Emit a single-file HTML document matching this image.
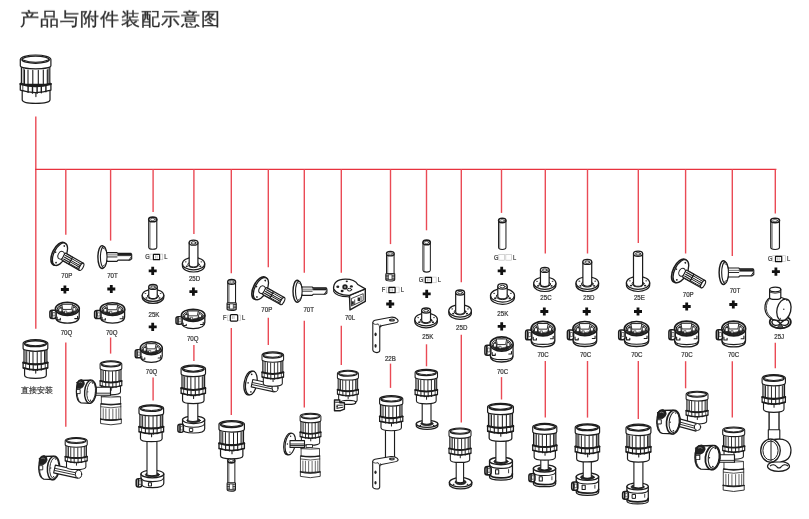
<!DOCTYPE html>
<html><head><meta charset="utf-8"><style>
html,body{margin:0;padding:0;background:#fff;}
body{width:809px;height:519px;overflow:hidden;position:relative;font-family:"Liberation Sans",sans-serif;}
.t{position:absolute;left:19.9px;top:7.3px;font-size:19px;color:#2e2e2e;white-space:nowrap;letter-spacing:1.12px;-webkit-text-stroke:0.3px #2e2e2e;transform:scale(1,0.95);transform-origin:0 0;}
.d{position:absolute;left:21px;top:385.2px;font-size:7.8px;color:#333;white-space:nowrap;-webkit-text-stroke:0.2px #333;}
svg{position:absolute;left:0;top:0;}
svg{will-change:transform}
.t,.d{will-change:transform}
</style></head><body>
<svg width="809" height="519" viewBox="0 0 809 519" font-family="Liberation Sans, sans-serif">
<defs>
<symbol id="bc" viewBox="0 0 30.6 48.3" preserveAspectRatio="none" overflow="visible">
<g stroke="#1c1c1c" fill="#fff" stroke-linejoin="round" stroke-linecap="round">
 <path d="M1.9,35 V44 Q1.9,47.6 15.3,47.6 Q29.7,47.6 29.7,44 V35 Z" stroke-width="1.2"/>
 <path d="M15.6,37.5 v3.5" stroke-width="1.1"/>
 <rect x="1.1" y="10" width="28.4" height="19" stroke-width="1.2"/>
 <path d="M2.9,13.5v15.5M27.9,13.5v15.5" stroke-width="0.8"/>
 <path d="M4.2,14.5v15M7.7,14.8v15.2M12.5,15v15.3M18,15v15.3M23,14.8v15.2M27,14.5v15" stroke-width="1.1"/>
 <path d="M0,28 Q15.3,32.6 30.6,28 V34.6 Q15.3,39.4 0,34.6 Z" stroke-width="1.3"/>
 <path d="M0,28.6 Q15.3,33.2 30.6,28.6" fill="none" stroke-width="1.8"/>
 <path d="M7.8,30.6v6.2M12.2,31.2v6.4M16.8,31.3v6.4M21,31v6.3M25.6,30.2v6" stroke-width="1.4"/>
 <path d="M2.5,30v5.5" stroke-width="0.8"/>
 <path d="M0,4.5 A15.3,4.5 0 0 1 30.6,4.5 V10.6 A15.3,3 0 0 1 0,10.6 Z" stroke-width="1.2"/>
 <ellipse cx="15.3" cy="4.6" rx="13.6" ry="3.5" stroke-width="1.4"/>
 <path d="M1.8,4.6 Q15.3,9.6 28.8,4.6" fill="none" stroke-width="1.1"/>
</g>
</symbol>

<symbol id="q70" viewBox="0 0 30 22" preserveAspectRatio="none" overflow="visible">
<g stroke="#1c1c1c" fill="#fff" stroke-linejoin="round" stroke-linecap="round">
 <path d="M6,7 V15 Q6,21.5 17.8,21.5 Q29.6,21.5 29.6,15 V7 Z" stroke-width="1.3"/>
 <path d="M7.6,15.5 v2.8 h3.2 v-1.6 M28,14.5 v2.5 h-2.8" fill="none" stroke-width="1.1"/>
 <ellipse cx="17.8" cy="7" rx="11.9" ry="6.7" stroke-width="1.6"/>
 <ellipse cx="17.8" cy="7.6" rx="10.2" ry="5.4" stroke-width="1.0"/>
 <path d="M8.4,8.8 Q8.7,6 11.6,4.6 L13.2,9 L12.2,12 Q9.2,11.5 8.4,8.8Z" fill="#333" stroke-width="0.6"/>
 <path d="M27.2,8.8 Q26.8,5.8 24,4.4 L22.6,9 L23.6,11.9 Q26.4,11.1 27.2,8.8Z" fill="#333" stroke-width="0.6"/>
 <path d="M11,11.6 Q17.8,14.8 24.6,11.6 L23,9.8 Q17.8,12.2 12.6,9.8Z" fill="#222" stroke-width="0.6"/>
 <path d="M12.6,2.3 H23 L22,7.6 H13.6Z" fill="#fff" stroke-width="0.9"/>
 <rect x="9.8" y="6.8" width="2" height="2.6" fill="#fff" stroke="none"/>
 <rect x="23.8" y="6.2" width="2" height="2.6" fill="#fff" stroke="none"/>
 <rect x="15.4" y="9.2" width="1.8" height="2.2" fill="#fff" stroke-width="0.6"/>
 <rect x="0.4" y="8.4" width="6.2" height="8.4" rx="2.2" stroke-width="1.5"/>
 <path d="M2.4,9.3v6.6" stroke-width="1.6"/>
 <rect x="3.6" y="10.8" width="2" height="3.4" fill="#fff" stroke-width="0.6"/>
</g>
</symbol>

<symbol id="c70" viewBox="0 0 30 26" preserveAspectRatio="none" overflow="visible">
<g stroke="#1c1c1c" fill="#fff" stroke-linejoin="round" stroke-linecap="round">
 <path d="M6,7.5 V19.5 Q6,25.5 17.8,25.5 Q29.6,25.5 29.6,19.5 V7.5 Z" stroke-width="1.3"/>
 <path d="M6.2,19.5 Q6.5,23.2 17.8,23.2 Q29.2,23.2 29.4,19.5" fill="none" stroke-width="1.2"/>
 <path d="M8,16 v2.8 h3.2 v-1.6 M28,15 v2.5 h-2.8" fill="none" stroke-width="1.1"/>
 <ellipse cx="17.8" cy="7.5" rx="11.9" ry="7.2" stroke-width="1.6"/>
 <ellipse cx="17.8" cy="8.1" rx="10.2" ry="5.8" stroke-width="1.0"/>
 <path d="M8.4,9.3 Q8.7,6.3 11.6,4.8 L13.2,9.5 L12.2,12.7 Q9.2,12.1 8.4,9.3Z" fill="#333" stroke-width="0.6"/>
 <path d="M27.2,9.3 Q26.8,6.1 24,4.6 L22.6,9.5 L23.6,12.5 Q26.4,11.7 27.2,9.3Z" fill="#333" stroke-width="0.6"/>
 <path d="M11,12.2 Q17.8,15.6 24.6,12.2 L23,10.3 Q17.8,12.8 12.6,10.3Z" fill="#222" stroke-width="0.6"/>
 <path d="M12.6,2.4 H23 L22,8 H13.6Z" fill="#fff" stroke-width="0.9"/>
 <rect x="9.8" y="7.2" width="2" height="2.8" fill="#fff" stroke="none"/>
 <rect x="23.8" y="6.6" width="2" height="2.8" fill="#fff" stroke="none"/>
 <rect x="15.4" y="9.7" width="1.8" height="2.3" fill="#fff" stroke-width="0.6"/>
 <rect x="0.4" y="8.8" width="6.2" height="9.8" rx="2.2" stroke-width="1.5"/>
 <path d="M2.4,9.8v7.8" stroke-width="1.6"/>
 <rect x="3.6" y="11.4" width="2" height="4" fill="#fff" stroke-width="0.6"/>
</g>
</symbol>

<symbol id="tg" viewBox="0 0 9.5 33" preserveAspectRatio="none" overflow="visible">
<g stroke="#1c1c1c" fill="#fff" stroke-linejoin="round" stroke-linecap="round">
 <path d="M0.7,2.8 V30.5 Q0.7,32.5 4.75,32.5 Q8.8,32.5 8.8,30.5 V2.8" stroke-width="1.1"/>
 <path d="M2,5 V31" fill="none" stroke-width="0.6"/>
 <ellipse cx="4.75" cy="2.8" rx="4.05" ry="2.3" stroke-width="1.6"/>
 <ellipse cx="4.75" cy="2.9" rx="2.3" ry="1.1" stroke-width="0.6"/>
</g>
</symbol>

<symbol id="tf" viewBox="0 0 11 32" preserveAspectRatio="none" overflow="visible">
<g stroke="#1c1c1c" fill="#fff" stroke-linejoin="round" stroke-linecap="round">
 <path d="M1.5,2.8 V24 H9.5 V2.8" stroke-width="1.1"/>
 <path d="M2.8,5 V24" fill="none" stroke-width="0.6"/>
 <ellipse cx="5.5" cy="2.8" rx="4" ry="2.3" stroke-width="1.5"/>
 <ellipse cx="5.5" cy="2.9" rx="2.3" ry="1.1" stroke-width="0.6"/>
 <path d="M0.8,24 H10.2 V30 Q10.2,31.6 5.5,31.6 Q0.8,31.6 0.8,30 Z" stroke-width="1.1"/>
 <path d="M1,25.6h9M1,27.2h9M1,28.8h9M1,30.3h9" stroke-width="0.9"/>
 <rect x="3.8" y="25" width="3.4" height="5" fill="#fff" stroke-width="0.6"/>
</g>
</symbol>

<symbol id="p70" viewBox="0 0 34 28" preserveAspectRatio="none" overflow="visible">
<g stroke="#1c1c1c" fill="#fff" stroke-linejoin="round" stroke-linecap="round">
 <g transform="rotate(29 20 19)">
  <path d="M9,15 H32.5 V23 H9 Z" stroke-width="1.2"/>
  <ellipse cx="32.5" cy="19" rx="1.7" ry="4" stroke-width="1.1"/>
  <path d="M14,16.8 H30.5 M14,18.6 H31 M14,20.4 H31 M14,22 H30.5" stroke-width="1.0"/>
  <path d="M18,17.7 H28 M18,21.2 H28" stroke="#fff" stroke-width="0.7"/>
 </g>
 <g transform="rotate(27 9.5 12.5)">
  <ellipse cx="8" cy="13" rx="6.3" ry="12.2" stroke-width="1.6"/>
  <ellipse cx="9.3" cy="12.8" rx="6.1" ry="12" stroke-width="1.3"/>
  <ellipse cx="10.8" cy="13.2" rx="3" ry="4" fill="#fff" stroke-width="1"/>
  <circle cx="9.5" cy="3.6" r="0.9" fill="#222" stroke="none"/>
  <circle cx="9.5" cy="22" r="0.9" fill="#222" stroke="none"/>
  <circle cx="4.5" cy="13" r="0.8" fill="#222" stroke="none"/>
 </g>
 <g transform="rotate(29 20 19)">
  <path d="M11.5,15.2 H20 V22.8 H11.5 Z" stroke-width="1.1"/>
  <path d="M13,17 H20 M13,19 H20 M13,21 H20" stroke-width="1.1"/>
 </g>
</g>
</symbol>

<symbol id="t70" viewBox="0 0 34.5 22.6" preserveAspectRatio="none" overflow="visible">
<g stroke="#1c1c1c" fill="#fff" stroke-linejoin="round" stroke-linecap="round">
 <path d="M8,7 H19.5 L20.5,7.8 H33.5 L34.2,9 V13 L32.5,14.3 H20.5 L19.5,15.4 H8 Z" stroke-width="1.1"/>
 <path d="M20.5,8.2 H33.5 V10 H20.5Z" fill="#222" stroke-width="0.6"/>
 <path d="M8,11.2 H19.5" stroke-width="0.9"/>
 <path d="M8,9.2 H19.5" stroke-width="0.6"/>
 <path d="M31.5,14.2 L33.8,11" stroke-width="0.9"/>
 <ellipse cx="4.6" cy="11.3" rx="4.2" ry="11" stroke-width="1.4"/>
 <ellipse cx="6.2" cy="11.3" rx="3.3" ry="10" stroke-width="1.1"/>
 <path d="M6,3 Q9,3.5 9.5,8 M6,19.6 Q9,19 9.5,14.5" fill="none" stroke-width="0.8"/>
</g>
</symbol>

<symbol id="l70" viewBox="0 0 32.4 31.4" preserveAspectRatio="none" overflow="visible">
<g stroke="#1c1c1c" fill="#fff" stroke-linejoin="round" stroke-linecap="round">
 <path d="M16.3,16.4 L32.1,10 V22.5 L16.8,31 Z" stroke-width="1.4"/>
 <path d="M18.5,19.5 L30,14.8 V21.6 L18.7,27 Z" fill="#fff" stroke-width="0.8"/>
 <rect x="18.4" y="22.4" width="2.2" height="3.4" fill="#222" stroke="none"/>
 <rect x="24.4" y="18.6" width="2.4" height="3.6" fill="#222" stroke="none"/>
 <path d="M21.5,21 v4.5 M27.8,17.5 v4" stroke-width="0.8"/>
 <path d="M0.5,10.5 V12.5 Q3,17.6 15,17.8 L16.3,18.4 V16.4" stroke-width="1.1"/>
 <path d="M0.4,10 Q0,0.5 12,0.2 Q21.5,0.1 24.6,5.6 L32.1,10 L16.3,16.4 Q4,16.6 0.4,10 Z" stroke-width="1.3"/>
 <circle cx="11.8" cy="8" r="2.7" fill="#222" stroke="none"/>
 <circle cx="11.8" cy="8" r="1" fill="#999" stroke="none"/>
 <ellipse cx="4.6" cy="7.9" rx="1.5" ry="1.2" fill="#222" stroke="none"/>
 <ellipse cx="18.2" cy="7.5" rx="1.5" ry="1.2" fill="#222" stroke="none"/>
 <ellipse cx="8.9" cy="12.1" rx="1.5" ry="1.2" fill="#222" stroke="none"/>
 <ellipse cx="13.6" cy="2.4" rx="1.1" ry="0.9" fill="#222" stroke="none"/>
 <ellipse cx="16.3" cy="10.8" rx="2.2" ry="1.3" fill="#fff" stroke-width="1"/>
</g>
</symbol>

<symbol id="b22" viewBox="0 0 27 36.5" preserveAspectRatio="none" overflow="visible">
<g stroke="#1c1c1c" fill="#fff" stroke-linejoin="round" stroke-linecap="round">
 <path d="M0.8,6 Q0.8,4 3,3.5 L19,0.4 Q23,0 25.5,2.5 L26.3,4.2 Q26,5.6 24,6 L9.5,9 Q7.8,9.6 7.8,11.5 V33.5 Q7.8,35.6 5,35.8 Q0.8,35.4 0.8,33 Z" stroke-width="1.1"/>
 <path d="M0.8,6 Q1.5,7.6 3.5,7.6 L6,7.3" fill="none" stroke-width="0.8"/>
 <path d="M6,7.3 Q7.8,8 7.8,11" fill="none" stroke-width="0.8"/>
 <ellipse cx="20" cy="3.2" rx="3" ry="1.6" fill="#2a2a2a" stroke="none"/>
 <ellipse cx="20.3" cy="3.2" rx="1.5" ry="0.8" fill="#777" stroke="none"/>
 <ellipse cx="3.6" cy="17.5" rx="1.1" ry="1.9" fill="#222" stroke="none"/>
 <ellipse cx="3.6" cy="29" rx="1.1" ry="1.9" fill="#222" stroke="none"/>
 <path d="M8.5,8.2 l0.5,1.5" stroke-width="0.8"/>
</g>
</symbol>

<symbol id="j25" viewBox="0 0 26.8 42.2" preserveAspectRatio="none" overflow="visible">
<g stroke="#1c1c1c" fill="#fff" stroke-linejoin="round" stroke-linecap="round">
 <ellipse cx="16" cy="35.2" rx="10.6" ry="6.4" stroke-width="1.7"/>
 <path d="M7.5,35 Q9,32 12,33.5 L16,36.5 L20,33.5 Q23,32 24.5,35 Q24,38 21,38.5 Q18,39 16,36.5 Q14,39 11,38.5 Q8,38 7.5,35Z" fill="#fff" stroke-width="1.3"/>
 <path d="M13,40.8 L16,36.8 L19,40.8 Q16,41.6 13,40.8Z" fill="#555" stroke-width="0.8"/>
 <path d="M6.2,10.5 Q0.3,14 0.6,22 Q1.2,29 8,32.5 L15.5,34 L23,13 L15,10 Z" stroke-width="1.2"/>
 <path d="M6.2,11 Q1.8,15 2,22 Q2.5,28 8,31.5" fill="none" stroke-width="0.8"/>
 <ellipse cx="19.6" cy="23" rx="6.9" ry="10.9" transform="rotate(14 19.6 23)" stroke-width="1.3"/>
 <path d="M5.3,2.7 V10.6 Q5.3,12.6 10.9,12.6 Q16.5,12.6 16.5,10.6 V2.7" stroke-width="1.2"/>
 <ellipse cx="10.9" cy="2.7" rx="5.6" ry="2.3" stroke-width="1.3"/>
 <path d="M5.5,5.5 Q10.9,7.6 16.3,5.5" fill="none" stroke-width="0.8"/>
 <circle cx="19.5" cy="22.5" r="0.7" fill="#222" stroke="none"/>
 <circle cx="22.5" cy="13.5" r="0.6" fill="#222" stroke="none"/>
 <circle cx="16" cy="31.5" r="0.6" fill="#222" stroke="none"/>
</g>
</symbol>


<symbol id="bs" viewBox="0 0 25 37.3" preserveAspectRatio="none" overflow="visible">
<g stroke="#1c1c1c" fill="#fff" stroke-linejoin="round" stroke-linecap="round">
 <path d="M1.5,26 V34 Q1.5,37 12.5,37 Q23.5,37 23.5,34 V26 Z" stroke-width="1.2"/>
 <path d="M12.8,29 v3" stroke-width="1.1"/>
 <rect x="0.9" y="8" width="23.2" height="15.5" stroke-width="1.2"/>
 <path d="M2.3,10.8v12.5M22.7,10.8v12.5" stroke-width="0.6"/>
 <path d="M3.7,11.2v12M6.3,11.5v12.5M10,11.8v12.6M14.3,11.8v12.6M18.2,11.5v12.5M21.7,11.2v12" stroke-width="1.0"/>
 <path d="M0,21.6 Q12.5,25.4 25,21.6 V27.2 Q12.5,31 0,27.2 Z" stroke-width="1.3"/>
 <path d="M0,22.1 Q12.5,25.9 25,22.1" fill="none" stroke-width="1.7"/>
 <path d="M0.2,26.8 Q12.5,30.6 24.8,26.8" fill="none" stroke-width="1.1"/>
 <path d="M6.5,24v4.8M10.2,24.5v4.9M14.6,24.5v4.9M18.4,24.2v4.8" stroke-width="1.1"/><path d="M2.6,23v4.5M22.4,23v4.5" stroke-width="0.8"/>
 <path d="M0,3.6 A12.5,3.6 0 0 1 25,3.6 V8.4 A12.5,2.7 0 0 1 0,8.4 Z" stroke-width="1.2"/>
 <ellipse cx="12.5" cy="3.8" rx="11.1" ry="2.8" stroke-width="1.4"/>
 <path d="M1.5,3.8 Q12.5,7.8 23.5,3.8" fill="none" stroke-width="1"/>
</g>
</symbol>
<symbol id="bi" viewBox="0 0 30.6 48.3" preserveAspectRatio="none" overflow="visible">
<g stroke="#1c1c1c" fill="#fff" stroke-linejoin="round" stroke-linecap="round">
 <path d="M1.5,1.8 V15 H29.1 V1.8 Q15.3,-0.6 1.5,1.8 Z" stroke-width="1.2"/>
 <path d="M1.6,2.2 Q15.3,4.6 29,2.2" fill="none" stroke-width="0.7"/>
 <rect x="1.1" y="14" width="28.4" height="25" stroke-width="1.2"/>
 <path d="M1.1,13.2 Q15.3,16.6 29.5,13.2" fill="none" stroke-width="2"/>
 <path d="M1.1,18.2 Q15.3,21.6 29.5,18.2" fill="none" stroke-width="1.1"/>
 <path d="M4.2,21.2v16.5M8,21.6v16.8M12.8,21.9v16.8M18,21.9v16.8M22.8,21.6v16.8M26.6,21.2v16.5" stroke-width="1.0"/>
 <path d="M0.4,38 V45.4 Q15.3,49.6 30.2,45.4 V38 Q15.3,42 0.4,38 Z" stroke-width="1.3"/>
 <path d="M0.4,38.4 Q15.3,42.4 30.2,38.4" fill="none" stroke-width="1.6"/>
</g>
</symbol>

<symbol id="qs" viewBox="0 0 28 19" preserveAspectRatio="none" overflow="visible">
<g stroke="#1c1c1c" fill="#fff" stroke-linejoin="round" stroke-linecap="round">
 <path d="M5.2,4.5 V14 Q5.2,18.6 16.5,18.6 Q27.8,18.6 27.8,14 V4.5 Z" stroke-width="1.2"/>
 <path d="M5.4,8.5 Q6,12.4 16.5,12.4 Q27.4,12.4 27.6,8.5" fill="none" stroke-width="1.1"/>
 <ellipse cx="16.5" cy="4.5" rx="11.3" ry="4" stroke-width="1.3"/>
 <ellipse cx="16.5" cy="5.2" rx="7" ry="2.4" fill="#2a2a2a" stroke-width="0.8"/>
 <rect x="12.6" y="13.6" width="3" height="3.4" fill="#fff" stroke-width="1"/>
 <rect x="0.5" y="9.3" width="5.6" height="8.6" rx="2.2" stroke-width="1.5"/>
 <path d="M2.6,10v7.2" stroke-width="1.5"/>
 <rect x="3.6" y="11.5" width="1.8" height="3.8" fill="#fff" stroke-width="0.6"/>
</g>
</symbol>

<symbol id="cs" viewBox="0 0 27 22.5" preserveAspectRatio="none" overflow="visible">
<g stroke="#1c1c1c" fill="#fff" stroke-linejoin="round" stroke-linecap="round">
 <path d="M4.7,4.5 V19.3 Q4.7,22.2 15.4,22.2 Q26.1,22.2 26.1,19.3 V4.5 Z" stroke-width="1.2"/>
 <path d="M4.8,16.6 Q5,20.2 15.4,20.2 Q25.9,20.2 26,16.6" fill="none" stroke-width="1.7"/>
 <path d="M4.8,8.2 Q5.5,11.4 15.4,11.4 Q25.5,11.4 26,8.2" fill="none" stroke-width="1.1"/>
 <ellipse cx="15.4" cy="4.5" rx="10.7" ry="3.5" stroke-width="1.3"/>
 <ellipse cx="15.4" cy="5" rx="6.6" ry="2.3" fill="#2a2a2a" stroke-width="0.8"/>
 <rect x="10.3" y="12.6" width="3" height="4" fill="#fff" stroke-width="1"/>
 <path d="M22.5,12.5 v3" stroke-width="0.8"/>
 <rect x="0.4" y="9.6" width="5.8" height="7.8" rx="2.2" stroke-width="1.5"/>
 <path d="M2.4,10.4v6.2" stroke-width="1.5"/>
 <rect x="3.4" y="11.5" width="1.8" height="3.5" fill="#fff" stroke-width="0.6"/>
</g>
</symbol>

<symbol id="cr" viewBox="0 0 22 25" preserveAspectRatio="none" overflow="visible">
<g stroke="#1c1c1c" fill="#fff" stroke-linejoin="round" stroke-linecap="round">
 <path d="M5,1.6 L15.3,1.2 L15.8,24.9 L5.5,24.4 Q0.6,22.5 0.6,13 Q0.6,3 5,1.6Z" stroke-width="1.3"/>
 <path d="M2.2,4.5 Q1.2,9 1.3,13 Q1.3,18.5 3.2,22" fill="none" stroke-width="0.8"/>
 <rect x="1.2" y="10.8" width="3.4" height="4.2" fill="#fff" stroke-width="0.9"/>
 <ellipse cx="15.4" cy="13.1" rx="6.1" ry="11.9" transform="rotate(5 15.4 13.1)" stroke-width="1.5"/>
 <ellipse cx="16.2" cy="13.1" rx="4.5" ry="10.4" transform="rotate(5 16.2 13.1)" fill="none" stroke-width="0.9"/>
 <path d="M1.2,3.6 Q0.8,8 1.5,9.6 L5,9.8 Q8.2,8.6 9,5.2 Q9.2,1.4 6,0.7 Q2.6,0.6 1.2,3.6Z" fill="#222" stroke-width="0.8"/>
 <path d="M3.5,3.5 Q5,2.5 6.5,3.8" fill="none" stroke="#888" stroke-width="0.8"/>
 <circle cx="17.6" cy="4.2" r="0.7" fill="#222" stroke="none"/>
 <circle cx="15.5" cy="21.8" r="0.7" fill="#222" stroke="none"/>
 <circle cx="12.6" cy="13.2" r="0.7" fill="#222" stroke="none"/>
</g>
</symbol>

<symbol id="wf" viewBox="0 0 14 25.2" preserveAspectRatio="none" overflow="visible">
<g stroke="#1c1c1c" fill="#fff" stroke-linejoin="round" stroke-linecap="round">
 <ellipse cx="6.3" cy="12.6" rx="5.6" ry="12" transform="rotate(10 6.3 12.6)" stroke-width="1.3"/>
 <ellipse cx="7.8" cy="12.6" rx="5.6" ry="12" transform="rotate(10 7.8 12.6)" stroke-width="1.3"/>
 <circle cx="8.2" cy="4" r="0.8" fill="#222" stroke="none"/>
 <circle cx="7.4" cy="21.5" r="0.8" fill="#222" stroke="none"/>
 <circle cx="4.6" cy="12.5" r="0.8" fill="#222" stroke="none"/>
</g>
</symbol>
</defs>
<line x1="35.80" y1="116.5" x2="35.80" y2="328.8" stroke="#ea4a55" stroke-width="1.4"/>
<line x1="35.1" y1="169.4" x2="776.4" y2="169.4" stroke="#e8323e" stroke-width="1.3"/>
<line x1="65.80" y1="169.3" x2="65.80" y2="234.7" stroke="#ea4a55" stroke-width="1.4"/>
<line x1="65.80" y1="342.5" x2="65.80" y2="426.7" stroke="#ea4a55" stroke-width="1.4"/>
<line x1="110.60" y1="169.3" x2="110.60" y2="240.6" stroke="#ea4a55" stroke-width="1.4"/>
<line x1="110.60" y1="337.5" x2="110.60" y2="353.6" stroke="#ea4a55" stroke-width="1.4"/>
<line x1="153.10" y1="169.3" x2="153.10" y2="212.0" stroke="#ea4a55" stroke-width="1.4"/>
<line x1="153.10" y1="377.5" x2="153.10" y2="400.5" stroke="#ea4a55" stroke-width="1.4"/>
<line x1="193.90" y1="169.3" x2="193.90" y2="233.9" stroke="#ea4a55" stroke-width="1.4"/>
<line x1="193.90" y1="344.9" x2="193.90" y2="361.0" stroke="#ea4a55" stroke-width="1.4"/>
<line x1="231.30" y1="169.3" x2="231.30" y2="273.3" stroke="#ea4a55" stroke-width="1.4"/>
<line x1="231.30" y1="327.9" x2="231.30" y2="414.9" stroke="#ea4a55" stroke-width="1.4"/>
<line x1="268.30" y1="169.3" x2="268.30" y2="267.2" stroke="#ea4a55" stroke-width="1.4"/>
<line x1="268.30" y1="317.8" x2="268.30" y2="345.0" stroke="#ea4a55" stroke-width="1.4"/>
<line x1="304.30" y1="169.3" x2="304.30" y2="272.7" stroke="#ea4a55" stroke-width="1.4"/>
<line x1="304.30" y1="320.7" x2="304.30" y2="407.4" stroke="#ea4a55" stroke-width="1.4"/>
<line x1="341.30" y1="169.3" x2="341.30" y2="272.7" stroke="#ea4a55" stroke-width="1.4"/>
<line x1="341.30" y1="325.8" x2="341.30" y2="365.1" stroke="#ea4a55" stroke-width="1.4"/>
<line x1="390.50" y1="169.3" x2="390.50" y2="244.1" stroke="#ea4a55" stroke-width="1.4"/>
<line x1="390.50" y1="363.6" x2="390.50" y2="387.9" stroke="#ea4a55" stroke-width="1.4"/>
<line x1="426.50" y1="169.3" x2="426.50" y2="230.3" stroke="#ea4a55" stroke-width="1.4"/>
<line x1="426.50" y1="344.3" x2="426.50" y2="366.3" stroke="#ea4a55" stroke-width="1.4"/>
<line x1="461.30" y1="169.3" x2="461.30" y2="282.3" stroke="#ea4a55" stroke-width="1.4"/>
<line x1="461.30" y1="334.7" x2="461.30" y2="422.6" stroke="#ea4a55" stroke-width="1.4"/>
<line x1="501.50" y1="169.3" x2="501.50" y2="212.9" stroke="#ea4a55" stroke-width="1.4"/>
<line x1="501.50" y1="377.1" x2="501.50" y2="399.5" stroke="#ea4a55" stroke-width="1.4"/>
<line x1="545.30" y1="169.3" x2="545.30" y2="253.5" stroke="#ea4a55" stroke-width="1.4"/>
<line x1="545.30" y1="360.9" x2="545.30" y2="417.6" stroke="#ea4a55" stroke-width="1.4"/>
<line x1="587.50" y1="169.3" x2="587.50" y2="253.5" stroke="#ea4a55" stroke-width="1.4"/>
<line x1="587.50" y1="361.0" x2="587.50" y2="417.6" stroke="#ea4a55" stroke-width="1.4"/>
<line x1="638.30" y1="169.3" x2="638.30" y2="243.1" stroke="#ea4a55" stroke-width="1.4"/>
<line x1="638.30" y1="361.0" x2="638.30" y2="418.9" stroke="#ea4a55" stroke-width="1.4"/>
<line x1="685.60" y1="169.3" x2="685.60" y2="253.5" stroke="#ea4a55" stroke-width="1.4"/>
<line x1="685.60" y1="361.2" x2="685.60" y2="388.3" stroke="#ea4a55" stroke-width="1.4"/>
<line x1="732.30" y1="169.3" x2="732.30" y2="256.0" stroke="#ea4a55" stroke-width="1.4"/>
<line x1="732.30" y1="361.2" x2="732.30" y2="417.5" stroke="#ea4a55" stroke-width="1.4"/>
<line x1="775.30" y1="169.3" x2="775.30" y2="213.6" stroke="#ea4a55" stroke-width="1.4"/>
<line x1="775.30" y1="342.8" x2="775.30" y2="368.2" stroke="#ea4a55" stroke-width="1.4"/>
<use href="#bc" x="20.30" y="55.00" width="30.60" height="49.00" />
<use href="#bs" x="23.10" y="339.70" width="24.70" height="38.90" />
<text x="66.80" y="278.40" font-size="7.0" text-anchor="middle" fill="#333" stroke="#333" stroke-width="0.22" transform="translate(66.80 0) scale(0.88 1) translate(-66.80 0)">70P</text>
<text x="66.50" y="335.00" font-size="7.0" text-anchor="middle" fill="#333" stroke="#333" stroke-width="0.22" transform="translate(66.50 0) scale(0.88 1) translate(-66.50 0)">70Q</text>
<text x="112.45" y="278.40" font-size="7.0" text-anchor="middle" fill="#333" stroke="#333" stroke-width="0.22" transform="translate(112.45 0) scale(0.88 1) translate(-112.45 0)">70T</text>
<text x="111.70" y="335.00" font-size="7.0" text-anchor="middle" fill="#333" stroke="#333" stroke-width="0.22" transform="translate(111.70 0) scale(0.88 1) translate(-111.70 0)">70Q</text>
<text x="154.00" y="316.60" font-size="7.0" text-anchor="middle" fill="#333" stroke="#333" stroke-width="0.22" transform="translate(154.00 0) scale(0.88 1) translate(-154.00 0)">25K</text>
<text x="151.60" y="373.70" font-size="7.0" text-anchor="middle" fill="#333" stroke="#333" stroke-width="0.22" transform="translate(151.60 0) scale(0.88 1) translate(-151.60 0)">70Q</text>
<text x="194.60" y="281.40" font-size="7.0" text-anchor="middle" fill="#333" stroke="#333" stroke-width="0.22" transform="translate(194.60 0) scale(0.88 1) translate(-194.60 0)">25D</text>
<text x="192.70" y="341.40" font-size="7.0" text-anchor="middle" fill="#333" stroke="#333" stroke-width="0.22" transform="translate(192.70 0) scale(0.88 1) translate(-192.70 0)">70Q</text>
<text x="266.80" y="312.00" font-size="7.0" text-anchor="middle" fill="#333" stroke="#333" stroke-width="0.22" transform="translate(266.80 0) scale(0.88 1) translate(-266.80 0)">70P</text>
<text x="308.70" y="312.00" font-size="7.0" text-anchor="middle" fill="#333" stroke="#333" stroke-width="0.22" transform="translate(308.70 0) scale(0.88 1) translate(-308.70 0)">70T</text>
<text x="350.05" y="320.20" font-size="7.0" text-anchor="middle" fill="#333" stroke="#333" stroke-width="0.22" transform="translate(350.05 0) scale(0.88 1) translate(-350.05 0)">70L</text>
<text x="390.40" y="360.80" font-size="7.0" text-anchor="middle" fill="#333" stroke="#333" stroke-width="0.22" transform="translate(390.40 0) scale(0.88 1) translate(-390.40 0)">22B</text>
<text x="427.85" y="339.40" font-size="7.0" text-anchor="middle" fill="#333" stroke="#333" stroke-width="0.22" transform="translate(427.85 0) scale(0.88 1) translate(-427.85 0)">25K</text>
<text x="461.70" y="330.40" font-size="7.0" text-anchor="middle" fill="#333" stroke="#333" stroke-width="0.22" transform="translate(461.70 0) scale(0.88 1) translate(-461.70 0)">25D</text>
<text x="502.80" y="315.80" font-size="7.0" text-anchor="middle" fill="#333" stroke="#333" stroke-width="0.22" transform="translate(502.80 0) scale(0.88 1) translate(-502.80 0)">25K</text>
<text x="502.60" y="373.60" font-size="7.0" text-anchor="middle" fill="#333" stroke="#333" stroke-width="0.22" transform="translate(502.60 0) scale(0.88 1) translate(-502.60 0)">70C</text>
<text x="546.00" y="300.20" font-size="7.0" text-anchor="middle" fill="#333" stroke="#333" stroke-width="0.22" transform="translate(546.00 0) scale(0.88 1) translate(-546.00 0)">25C</text>
<text x="543.10" y="357.20" font-size="7.0" text-anchor="middle" fill="#333" stroke="#333" stroke-width="0.22" transform="translate(543.10 0) scale(0.88 1) translate(-543.10 0)">70C</text>
<text x="588.90" y="300.20" font-size="7.0" text-anchor="middle" fill="#333" stroke="#333" stroke-width="0.22" transform="translate(588.90 0) scale(0.88 1) translate(-588.90 0)">25D</text>
<text x="585.55" y="357.20" font-size="7.0" text-anchor="middle" fill="#333" stroke="#333" stroke-width="0.22" transform="translate(585.55 0) scale(0.88 1) translate(-585.55 0)">70C</text>
<text x="639.40" y="300.20" font-size="7.0" text-anchor="middle" fill="#333" stroke="#333" stroke-width="0.22" transform="translate(639.40 0) scale(0.88 1) translate(-639.40 0)">25E</text>
<text x="636.80" y="357.20" font-size="7.0" text-anchor="middle" fill="#333" stroke="#333" stroke-width="0.22" transform="translate(636.80 0) scale(0.88 1) translate(-636.80 0)">70C</text>
<text x="688.20" y="296.70" font-size="7.0" text-anchor="middle" fill="#333" stroke="#333" stroke-width="0.22" transform="translate(688.20 0) scale(0.88 1) translate(-688.20 0)">70P</text>
<text x="687.00" y="357.50" font-size="7.0" text-anchor="middle" fill="#333" stroke="#333" stroke-width="0.22" transform="translate(687.00 0) scale(0.88 1) translate(-687.00 0)">70C</text>
<text x="735.00" y="293.50" font-size="7.0" text-anchor="middle" fill="#333" stroke="#333" stroke-width="0.22" transform="translate(735.00 0) scale(0.88 1) translate(-735.00 0)">70T</text>
<text x="733.55" y="357.50" font-size="7.0" text-anchor="middle" fill="#333" stroke="#333" stroke-width="0.22" transform="translate(733.55 0) scale(0.88 1) translate(-733.55 0)">70C</text>
<text x="779.20" y="339.30" font-size="7.0" text-anchor="middle" fill="#333" stroke="#333" stroke-width="0.22" transform="translate(779.20 0) scale(0.88 1) translate(-779.20 0)">25J</text>
<g transform="translate(145.30 254.00)">
<text x="0" y="5.3" font-size="6.8" fill="#333" stroke="#333" stroke-width="0.22" transform="scale(0.85 1)">G</text>
<rect x="4.7" y="0.1" width="5.7" height="5.6" fill="none" stroke="#c4c4c4" stroke-width="0.7"/>
<rect x="11.7" y="0.1" width="5.7" height="5.6" fill="none" stroke="#c4c4c4" stroke-width="0.7"/>
<rect x="8.10" y="0.30" width="6.2" height="5.4" rx="0.3" fill="#fff" stroke="#111" stroke-width="1.2"/>
<path d="M10.20,1.40v3.2M11.80,1.40v3.2" stroke="#777" stroke-width="0.5"/>
<text x="22.3" y="5.3" font-size="6.8" fill="#333" stroke="#333" stroke-width="0.22" transform="scale(0.85 1)">L</text>
</g>
<g transform="translate(223.00 315.00)">
<text x="0" y="5.3" font-size="6.8" fill="#333" stroke="#333" stroke-width="0.22" transform="scale(0.85 1)">F</text>
<rect x="4.7" y="0.1" width="5.7" height="5.6" fill="none" stroke="#c4c4c4" stroke-width="0.7"/>
<rect x="11.7" y="0.1" width="5.7" height="5.6" fill="none" stroke="#c4c4c4" stroke-width="0.7"/>
<rect x="7.30" y="-0.30" width="7.4" height="6.4" rx="1.2" fill="#fff" stroke="#111" stroke-width="1.2"/>
<path d="M9.40,0.80v3.2M11.00,0.80v3.2" stroke="#777" stroke-width="0.5"/>
<text x="22.3" y="5.3" font-size="6.8" fill="#333" stroke="#333" stroke-width="0.22" transform="scale(0.85 1)">L</text>
</g>
<g transform="translate(381.70 287.00)">
<text x="0" y="5.3" font-size="6.8" fill="#333" stroke="#333" stroke-width="0.22" transform="scale(0.85 1)">F</text>
<rect x="4.7" y="0.1" width="5.7" height="5.6" fill="none" stroke="#c4c4c4" stroke-width="0.7"/>
<rect x="11.7" y="0.1" width="5.7" height="5.6" fill="none" stroke="#c4c4c4" stroke-width="0.7"/>
<rect x="7.20" y="0.30" width="6.2" height="5.4" rx="0.3" fill="#fff" stroke="#111" stroke-width="1.2"/>
<path d="M9.30,1.40v3.2M10.90,1.40v3.2" stroke="#777" stroke-width="0.5"/>
<text x="22.3" y="5.3" font-size="6.8" fill="#333" stroke="#333" stroke-width="0.22" transform="scale(0.85 1)">L</text>
</g>
<g transform="translate(418.80 277.00)">
<text x="0" y="5.3" font-size="6.8" fill="#333" stroke="#333" stroke-width="0.22" transform="scale(0.85 1)">G</text>
<rect x="4.7" y="0.1" width="5.7" height="5.6" fill="none" stroke="#c4c4c4" stroke-width="0.7"/>
<rect x="11.7" y="0.1" width="5.7" height="5.6" fill="none" stroke="#c4c4c4" stroke-width="0.7"/>
<rect x="6.50" y="0.30" width="6.2" height="5.4" rx="0.3" fill="#fff" stroke="#111" stroke-width="1.2"/>
<path d="M8.60,1.40v3.2M10.20,1.40v3.2" stroke="#777" stroke-width="0.5"/>
<text x="22.3" y="5.3" font-size="6.8" fill="#333" stroke="#333" stroke-width="0.22" transform="scale(0.85 1)">L</text>
</g>
<g transform="translate(494.10 254.50)">
<text x="0" y="5.3" font-size="6.8" fill="#333" stroke="#333" stroke-width="0.22" transform="scale(0.85 1)">G</text>
<rect x="4.7" y="0.1" width="5.7" height="5.6" fill="none" stroke="#c4c4c4" stroke-width="0.7"/>
<rect x="11.7" y="0.1" width="5.7" height="5.6" fill="none" stroke="#c4c4c4" stroke-width="0.7"/>
<text x="22.3" y="5.3" font-size="6.8" fill="#333" stroke="#333" stroke-width="0.22" transform="scale(0.85 1)">L</text>
</g>
<g transform="translate(768.00 255.60)">
<text x="0" y="5.3" font-size="6.8" fill="#333" stroke="#333" stroke-width="0.22" transform="scale(0.85 1)">G</text>
<rect x="4.7" y="0.1" width="5.7" height="5.6" fill="none" stroke="#c4c4c4" stroke-width="0.7"/>
<rect x="11.7" y="0.1" width="5.7" height="5.6" fill="none" stroke="#c4c4c4" stroke-width="0.7"/>
<rect x="7.50" y="0.70" width="6.2" height="5.4" rx="0.3" fill="#fff" stroke="#111" stroke-width="1.2"/>
<path d="M9.60,1.80v3.2M11.20,1.80v3.2" stroke="#777" stroke-width="0.5"/>
<text x="22.3" y="5.3" font-size="6.8" fill="#333" stroke="#333" stroke-width="0.22" transform="scale(0.85 1)">L</text>
</g>
<path d="M60.90,289.50h8M64.90,285.40v8.2" stroke="#111" stroke-width="2.8"/>
<path d="M107.30,289.00h8M111.30,284.90v8.2" stroke="#111" stroke-width="2.8"/>
<path d="M148.70,270.80h8M152.70,266.70v8.2" stroke="#111" stroke-width="2.8"/>
<path d="M148.70,326.90h8M152.70,322.80v8.2" stroke="#111" stroke-width="2.8"/>
<path d="M189.40,291.70h8M193.40,287.60v8.2" stroke="#111" stroke-width="2.8"/>
<path d="M386.20,304.00h8M390.20,299.90v8.2" stroke="#111" stroke-width="2.8"/>
<path d="M422.70,293.80h8M426.70,289.70v8.2" stroke="#111" stroke-width="2.8"/>
<path d="M497.70,270.90h8M501.70,266.80v8.2" stroke="#111" stroke-width="2.8"/>
<path d="M497.70,326.30h8M501.70,322.20v8.2" stroke="#111" stroke-width="2.8"/>
<path d="M540.30,311.50h8M544.30,307.40v8.2" stroke="#111" stroke-width="2.8"/>
<path d="M582.70,311.50h8M586.70,307.40v8.2" stroke="#111" stroke-width="2.8"/>
<path d="M634.00,311.50h8M638.00,307.40v8.2" stroke="#111" stroke-width="2.8"/>
<path d="M682.70,306.50h8M686.70,302.40v8.2" stroke="#111" stroke-width="2.8"/>
<path d="M729.30,304.50h8M733.30,300.40v8.2" stroke="#111" stroke-width="2.8"/>
<path d="M771.90,271.70h8M775.90,267.60v8.2" stroke="#111" stroke-width="2.8"/>
<use href="#p70" x="50.90" y="241.30" width="33.60" height="28.50" />
<use href="#t70" x="97.50" y="245.30" width="34.50" height="23.50" />
<use href="#q70" x="49.50" y="302.00" width="30.10" height="21.50" />
<use href="#q70" x="94.20" y="302.50" width="30.80" height="21.00" />
<use href="#tg" x="148.00" y="216.60" width="9.50" height="33.10" />
<g stroke="#1c1c1c" fill="#fff" stroke-linejoin="round" stroke-linecap="round">
<path d="M142.20,295.33 V297.34 A10.80,6.05 0 0 0 163.80,297.34 V295.33 Z" stroke-width="1.2"/>
<ellipse cx="153.00" cy="295.33" rx="10.80" ry="6.05" stroke-width="1.2"/>
<ellipse cx="146.44" cy="297.95" rx="1.11" ry="0.81" fill="#222" stroke="none"/>
<ellipse cx="159.56" cy="297.95" rx="1.11" ry="0.81" fill="#222" stroke="none"/>
<ellipse cx="145.43" cy="293.51" rx="0.91" ry="0.61" fill="#444" stroke="none"/>
<ellipse cx="160.57" cy="293.51" rx="0.91" ry="0.61" fill="#444" stroke="none"/>
<ellipse cx="153.00" cy="296.13" rx="5.55" ry="3.03" stroke-width="1"/>
<path d="M148.76,286.92 V296.13 A4.24,2.42 0 0 0 157.24,296.13 V286.92 Z" stroke-width="1.2"/>
<ellipse cx="153.00" cy="286.92" rx="4.24" ry="2.42" stroke-width="1.3"/>
<ellipse cx="153.00" cy="287.12" rx="2.33" ry="1.21" fill="#fff" stroke-width="0.9"/>
</g>
<use href="#q70" x="134.80" y="341.50" width="27.80" height="21.30" />
<g stroke="#1c1c1c" fill="#fff" stroke-linejoin="round" stroke-linecap="round">
<path d="M182.40,263.67 V265.75 A11.15,6.24 0 0 0 204.70,265.75 V263.67 Z" stroke-width="1.2"/>
<ellipse cx="193.55" cy="263.67" rx="11.15" ry="6.24" stroke-width="1.2"/>
<ellipse cx="186.79" cy="266.37" rx="1.14" ry="0.83" fill="#222" stroke="none"/>
<ellipse cx="200.31" cy="266.37" rx="1.14" ry="0.83" fill="#222" stroke="none"/>
<ellipse cx="185.75" cy="261.80" rx="0.94" ry="0.62" fill="#444" stroke="none"/>
<ellipse cx="201.35" cy="261.80" rx="0.94" ry="0.62" fill="#444" stroke="none"/>
<ellipse cx="193.55" cy="264.50" rx="5.72" ry="3.12" stroke-width="1"/>
<path d="M189.18,242.70 V264.50 A4.37,2.50 0 0 0 197.92,264.50 V242.70 Z" stroke-width="1.2"/>
<ellipse cx="193.55" cy="242.70" rx="4.37" ry="2.50" stroke-width="1.3"/>
<ellipse cx="193.55" cy="242.90" rx="2.40" ry="1.25" fill="#fff" stroke-width="0.9"/>
</g>
<use href="#q70" x="175.60" y="308.90" width="29.60" height="20.10" />
<use href="#tf" x="226.30" y="279.10" width="10.70" height="31.80" />
<use href="#p70" x="251.80" y="275.90" width="33.70" height="28.10" />
<use href="#t70" x="292.60" y="280.00" width="34.60" height="22.60" />
<use href="#l70" x="333.20" y="278.90" width="32.40" height="31.40" />
<use href="#tf" x="385.10" y="251.10" width="10.40" height="30.20" />
<use href="#b22" x="372.00" y="316.80" width="26.90" height="36.50" />
<use href="#tg" x="422.30" y="239.60" width="8.70" height="33.00" />
<g stroke="#1c1c1c" fill="#fff" stroke-linejoin="round" stroke-linecap="round">
<path d="M414.80,319.46 V321.57 A11.30,6.32 0 0 0 437.40,321.57 V319.46 Z" stroke-width="1.2"/>
<ellipse cx="426.10" cy="319.46" rx="11.30" ry="6.32" stroke-width="1.2"/>
<ellipse cx="419.25" cy="322.20" rx="1.16" ry="0.84" fill="#222" stroke="none"/>
<ellipse cx="432.95" cy="322.20" rx="1.16" ry="0.84" fill="#222" stroke="none"/>
<ellipse cx="418.20" cy="317.56" rx="0.95" ry="0.63" fill="#444" stroke="none"/>
<ellipse cx="434.00" cy="317.56" rx="0.95" ry="0.63" fill="#444" stroke="none"/>
<ellipse cx="426.10" cy="320.30" rx="5.79" ry="3.16" stroke-width="1"/>
<path d="M421.68,310.53 V320.30 A4.42,2.53 0 0 0 430.53,320.30 V310.53 Z" stroke-width="1.2"/>
<ellipse cx="426.10" cy="310.53" rx="4.42" ry="2.53" stroke-width="1.3"/>
<ellipse cx="426.10" cy="310.73" rx="2.43" ry="1.26" fill="#fff" stroke-width="0.9"/>
</g>
<g stroke="#1c1c1c" fill="#fff" stroke-linejoin="round" stroke-linecap="round">
<path d="M448.80,310.86 V312.97 A11.30,6.32 0 0 0 471.40,312.97 V310.86 Z" stroke-width="1.2"/>
<ellipse cx="460.10" cy="310.86" rx="11.30" ry="6.32" stroke-width="1.2"/>
<ellipse cx="453.25" cy="313.60" rx="1.16" ry="0.84" fill="#222" stroke="none"/>
<ellipse cx="466.95" cy="313.60" rx="1.16" ry="0.84" fill="#222" stroke="none"/>
<ellipse cx="452.20" cy="308.96" rx="0.95" ry="0.63" fill="#444" stroke="none"/>
<ellipse cx="468.00" cy="308.96" rx="0.95" ry="0.63" fill="#444" stroke="none"/>
<ellipse cx="460.10" cy="311.70" rx="5.79" ry="3.16" stroke-width="1"/>
<path d="M455.68,292.53 V311.70 A4.42,2.53 0 0 0 464.53,311.70 V292.53 Z" stroke-width="1.2"/>
<ellipse cx="460.10" cy="292.53" rx="4.42" ry="2.53" stroke-width="1.3"/>
<ellipse cx="460.10" cy="292.73" rx="2.43" ry="1.26" fill="#fff" stroke-width="0.9"/>
</g>
<use href="#tg" x="497.90" y="217.80" width="8.70" height="32.20" />
<g stroke="#1c1c1c" fill="#fff" stroke-linejoin="round" stroke-linecap="round">
<path d="M490.50,295.35 V297.58 A12.00,6.70 0 0 0 514.50,297.58 V295.35 Z" stroke-width="1.2"/>
<ellipse cx="502.50" cy="295.35" rx="12.00" ry="6.70" stroke-width="1.2"/>
<ellipse cx="495.25" cy="298.25" rx="1.23" ry="0.89" fill="#222" stroke="none"/>
<ellipse cx="509.75" cy="298.25" rx="1.23" ry="0.89" fill="#222" stroke="none"/>
<ellipse cx="494.13" cy="293.34" rx="1.00" ry="0.67" fill="#444" stroke="none"/>
<ellipse cx="510.87" cy="293.34" rx="1.00" ry="0.67" fill="#444" stroke="none"/>
<ellipse cx="502.50" cy="296.24" rx="6.14" ry="3.35" stroke-width="1"/>
<path d="M497.81,286.38 V296.24 A4.69,2.68 0 0 0 507.19,296.24 V286.38 Z" stroke-width="1.2"/>
<ellipse cx="502.50" cy="286.38" rx="4.69" ry="2.68" stroke-width="1.3"/>
<ellipse cx="502.50" cy="286.58" rx="2.58" ry="1.34" fill="#fff" stroke-width="0.9"/>
</g>
<use href="#c70" x="484.50" y="336.60" width="28.90" height="25.90" />
<g stroke="#1c1c1c" fill="#fff" stroke-linejoin="round" stroke-linecap="round">
<path d="M533.70,283.21 V285.28 A11.10,6.21 0 0 0 555.90,285.28 V283.21 Z" stroke-width="1.2"/>
<ellipse cx="544.80" cy="283.21" rx="11.10" ry="6.21" stroke-width="1.2"/>
<ellipse cx="538.07" cy="285.90" rx="1.14" ry="0.83" fill="#222" stroke="none"/>
<ellipse cx="551.53" cy="285.90" rx="1.14" ry="0.83" fill="#222" stroke="none"/>
<ellipse cx="537.03" cy="281.34" rx="0.93" ry="0.62" fill="#444" stroke="none"/>
<ellipse cx="552.57" cy="281.34" rx="0.93" ry="0.62" fill="#444" stroke="none"/>
<ellipse cx="544.80" cy="284.04" rx="5.70" ry="3.11" stroke-width="1"/>
<path d="M540.45,269.89 V284.04 A4.35,2.49 0 0 0 549.15,284.04 V269.89 Z" stroke-width="1.2"/>
<ellipse cx="544.80" cy="269.89" rx="4.35" ry="2.49" stroke-width="1.3"/>
<ellipse cx="544.80" cy="270.09" rx="2.39" ry="1.24" fill="#fff" stroke-width="0.9"/>
</g>
<use href="#c70" x="525.20" y="321.10" width="30.00" height="26.20" />
<g stroke="#1c1c1c" fill="#fff" stroke-linejoin="round" stroke-linecap="round">
<path d="M576.00,283.06 V285.17 A11.30,6.32 0 0 0 598.60,285.17 V283.06 Z" stroke-width="1.2"/>
<ellipse cx="587.30" cy="283.06" rx="11.30" ry="6.32" stroke-width="1.2"/>
<ellipse cx="580.45" cy="285.80" rx="1.16" ry="0.84" fill="#222" stroke="none"/>
<ellipse cx="594.15" cy="285.80" rx="1.16" ry="0.84" fill="#222" stroke="none"/>
<ellipse cx="579.40" cy="281.16" rx="0.95" ry="0.63" fill="#444" stroke="none"/>
<ellipse cx="595.20" cy="281.16" rx="0.95" ry="0.63" fill="#444" stroke="none"/>
<ellipse cx="587.30" cy="283.90" rx="5.79" ry="3.16" stroke-width="1"/>
<path d="M582.88,261.93 V283.90 A4.43,2.53 0 0 0 591.72,283.90 V261.93 Z" stroke-width="1.2"/>
<ellipse cx="587.30" cy="261.93" rx="4.43" ry="2.53" stroke-width="1.3"/>
<ellipse cx="587.30" cy="262.13" rx="2.43" ry="1.26" fill="#fff" stroke-width="0.9"/>
</g>
<use href="#c70" x="567.00" y="321.20" width="30.10" height="25.80" />
<g stroke="#1c1c1c" fill="#fff" stroke-linejoin="round" stroke-linecap="round">
<path d="M626.40,282.80 V284.97 A11.65,6.51 0 0 0 649.70,284.97 V282.80 Z" stroke-width="1.2"/>
<ellipse cx="638.05" cy="282.80" rx="11.65" ry="6.51" stroke-width="1.2"/>
<ellipse cx="631.00" cy="285.62" rx="1.19" ry="0.87" fill="#222" stroke="none"/>
<ellipse cx="645.10" cy="285.62" rx="1.19" ry="0.87" fill="#222" stroke="none"/>
<ellipse cx="629.91" cy="280.85" rx="0.98" ry="0.65" fill="#444" stroke="none"/>
<ellipse cx="646.19" cy="280.85" rx="0.98" ry="0.65" fill="#444" stroke="none"/>
<ellipse cx="638.05" cy="283.67" rx="5.97" ry="3.25" stroke-width="1"/>
<path d="M633.49,253.70 V283.67 A4.56,2.60 0 0 0 642.61,283.67 V253.70 Z" stroke-width="1.2"/>
<ellipse cx="638.05" cy="253.70" rx="4.56" ry="2.60" stroke-width="1.3"/>
<ellipse cx="638.05" cy="253.90" rx="2.51" ry="1.30" fill="#fff" stroke-width="0.9"/>
</g>
<use href="#c70" x="618.30" y="321.20" width="30.80" height="25.80" />
<use href="#p70" x="671.50" y="258.00" width="34.70" height="29.20" />
<use href="#c70" x="668.50" y="320.80" width="30.50" height="26.60" />
<use href="#t70" x="718.70" y="260.50" width="35.40" height="24.20" />
<use href="#c70" x="715.90" y="320.80" width="30.00" height="26.60" />
<use href="#tg" x="770.00" y="217.80" width="10.20" height="32.20" />
<use href="#j25" x="764.30" y="286.80" width="26.80" height="42.20" />
<use href="#cr" x="38.20" y="454.90" width="21.80" height="24.90" />
<path d="M53.65,472.91 L77.65,478.11 L79.35,470.29 L55.35,465.09 Z" stroke="#1c1c1c" fill="#fff" stroke-linejoin="round" stroke-linecap="round" stroke-width="1.1"/>
<path d="M54.20,470.37 L78.20,475.57" stroke="#1c1c1c" stroke-width="0.9"/>
<path d="M54.67,468.22 L78.67,473.42" stroke="#1c1c1c" stroke-width="0.9"/>
<ellipse cx="78.5" cy="474.2" rx="3.2" ry="4" stroke="#1c1c1c" fill="#fff" stroke-linejoin="round" stroke-linecap="round" stroke-width="1"/>
<use href="#bs" x="65.20" y="437.60" width="22.00" height="32.20" />
<use href="#bs" x="100.10" y="360.80" width="21.70" height="34.20" />
<use href="#bi" x="100.30" y="395.60" width="21.30" height="29.70" />
<path d="M90.00,395.20 L110.50,395.20 L110.50,387.20 L90.00,387.20 Z" stroke="#1c1c1c" fill="#fff" stroke-linejoin="round" stroke-linecap="round" stroke-width="1.1"/>
<path d="M90.00,393.20 L110.50,393.20" stroke="#1c1c1c" stroke-width="0.9"/>
<path d="M110.5,387.2 V395.2" stroke="#1c1c1c" stroke-width="1.1"/>
<use href="#cr" x="75.80" y="378.90" width="20.90" height="24.50" />
<use href="#qs" x="135.70" y="469.60" width="28.30" height="18.40" />
<path d="M147.00,439.00 V474.94 Q151.95,476.54 156.90,474.94 V439.00 Z" fill="#fff" stroke="#1c1c1c" stroke-width="1.1"/>
<use href="#bs" x="139.00" y="404.80" width="24.60" height="37.20" />
<use href="#qs" x="177.40" y="415.60" width="27.50" height="17.80" />
<path d="M188.00,401.00 V420.77 Q192.90,422.37 197.80,420.77 V401.00 Z" fill="#fff" stroke="#1c1c1c" stroke-width="1.1"/>
<use href="#bs" x="181.10" y="365.10" width="24.40" height="38.90" />
<use href="#tf" x="226.40" y="457.50" width="9.80" height="34.00" />
<use href="#bs" x="219.00" y="420.60" width="25.40" height="38.50" />
<use href="#wf" x="243.50" y="370.40" width="14.00" height="25.20" />
<path d="M251.20,386.86 L274.20,391.86 L275.80,384.54 L252.80,379.54 Z" stroke="#1c1c1c" fill="#fff" stroke-linejoin="round" stroke-linecap="round" stroke-width="1.1"/>
<path d="M251.72,384.48 L274.72,389.48" stroke="#1c1c1c" stroke-width="0.9"/>
<path d="M252.16,382.47 L275.16,387.47" stroke="#1c1c1c" stroke-width="0.9"/>
<ellipse cx="275" cy="388" rx="3" ry="3.8" stroke="#1c1c1c" fill="#fff" stroke-linejoin="round" stroke-linecap="round" stroke-width="1"/>
<use href="#bs" x="262.00" y="351.90" width="21.60" height="34.60" />
<use href="#wf" x="283.30" y="432.50" width="12.50" height="23.00" />
<use href="#bs" x="300.10" y="413.20" width="20.80" height="32.30" />
<use href="#bi" x="300.10" y="447.40" width="20.40" height="30.80" />
<rect x="306.5" y="444.6" width="6" height="3" stroke="#1c1c1c" fill="#fff" stroke-linejoin="round" stroke-linecap="round" stroke-width="0.9"/>
<path d="M290.00,447.40 L304.50,447.40 L304.50,440.60 L290.00,440.60 Z" stroke="#1c1c1c" fill="#fff" stroke-linejoin="round" stroke-linecap="round" stroke-width="1.1"/>
<path d="M290.00,445.53 L304.50,445.53" stroke="#1c1c1c" stroke-width="0.9"/>
<path d="M290.00,444.00 L304.50,444.00" stroke="#1c1c1c" stroke-width="0.9"/>
<use href="#bs" x="337.40" y="370.30" width="21.00" height="32.90" />
<ellipse cx="348.2" cy="402.4" rx="7.6" ry="2" stroke="#1c1c1c" fill="#fff" stroke-linejoin="round" stroke-linecap="round" stroke-width="1.3"/>
<path d="M334.5,400 H339.8 V402.8 H344.4 V409.2 L340.5,410.7 H334.5 Z" stroke="#1c1c1c" fill="#fff" stroke-linejoin="round" stroke-linecap="round" stroke-width="1.4"/>
<path d="M335.2,402.2 H339.5 M336.5,405.2 H342.8 M336.5,408.4 L343,407.2" fill="none" stroke="#1c1c1c" stroke-width="1"/>
<rect x="336.3" y="405.8" width="1.6" height="1.8" fill="#222"/>
<path d="M385.50,429.00 V459.00 M394.50,429.00 V459.00" stroke="#1c1c1c" stroke-width="1.1"/>
<rect x="385.50" y="429.00" width="9.00" height="30.00" fill="#fff" stroke="#1c1c1c" stroke-width="1.1"/>
<use href="#b22" x="371.90" y="456.10" width="27.00" height="33.60" />
<use href="#bs" x="379.60" y="395.60" width="23.20" height="35.40" />
<path d="M416.30,423.80 V425.80 A10.75,3.50 0 0 0 437.80,425.80 V423.80 Z" stroke="#1c1c1c" fill="#fff" stroke-linejoin="round" stroke-linecap="round" stroke-width="1.3"/>
<ellipse cx="427.05" cy="423.80" rx="10.75" ry="3.50" stroke="#1c1c1c" fill="#fff" stroke-linejoin="round" stroke-linecap="round" stroke-width="1.3"/>
<ellipse cx="420.38" cy="425.38" rx="0.9" ry="0.6" fill="#222"/>
<ellipse cx="433.71" cy="425.38" rx="0.9" ry="0.6" fill="#222"/>
<ellipse cx="427.05" cy="423.60" rx="6.20" ry="1.92" fill="#2a2a2a" stroke="#1c1c1c" stroke-width="0.8"/>
<path d="M422.20,400.00 V423.50 Q427.05,425.10 431.00,423.50 V400.00 Z" fill="#fff" stroke="#1c1c1c" stroke-width="1.1"/>
<use href="#bs" x="415.10" y="369.40" width="22.40" height="34.70" />
<path d="M449.40,482.30 V484.30 A11.20,4.60 0 0 0 471.80,484.30 V482.30 Z" stroke="#1c1c1c" fill="#fff" stroke-linejoin="round" stroke-linecap="round" stroke-width="1.3"/>
<ellipse cx="460.60" cy="482.30" rx="11.20" ry="4.60" stroke="#1c1c1c" fill="#fff" stroke-linejoin="round" stroke-linecap="round" stroke-width="1.3"/>
<ellipse cx="453.66" cy="484.37" rx="0.9" ry="0.6" fill="#222"/>
<ellipse cx="467.54" cy="484.37" rx="0.9" ry="0.6" fill="#222"/>
<ellipse cx="460.60" cy="482.10" rx="5.50" ry="2.53" fill="#2a2a2a" stroke="#1c1c1c" stroke-width="0.8"/>
<path d="M456.20,458.00 V482.00 Q460.60,483.60 463.60,482.00 V458.00 Z" fill="#fff" stroke="#1c1c1c" stroke-width="1.1"/>
<use href="#bs" x="449.00" y="428.00" width="22.00" height="34.70" />
<use href="#cs" x="484.50" y="456.10" width="28.90" height="24.30" />
<path d="M495.90,438.70 V461.80 Q500.95,463.40 506.00,461.80 V438.70 Z" fill="#fff" stroke="#1c1c1c" stroke-width="1.1"/>
<use href="#bs" x="487.60" y="403.30" width="25.80" height="38.40" />
<use href="#cs" x="528.50" y="463.80" width="28.10" height="23.20" />
<path d="M540.80,457.50 V469.26 Q544.50,470.86 548.20,469.26 V457.50 Z" fill="#fff" stroke="#1c1c1c" stroke-width="1.1"/>
<use href="#bs" x="532.70" y="423.40" width="24.10" height="37.10" />
<use href="#cs" x="571.30" y="472.00" width="28.30" height="23.60" />
<path d="M583.20,459.30 V477.54 Q587.25,479.14 591.30,477.54 V459.30 Z" fill="#fff" stroke="#1c1c1c" stroke-width="1.1"/>
<use href="#bs" x="575.20" y="423.80" width="24.40" height="38.50" />
<use href="#cs" x="622.20" y="482.00" width="27.00" height="22.20" />
<path d="M633.90,459.40 V487.23 Q638.40,488.83 642.90,487.23 V459.40 Z" fill="#fff" stroke="#1c1c1c" stroke-width="1.1"/>
<use href="#bs" x="626.00" y="424.20" width="24.90" height="38.20" />
<use href="#bs" x="686.10" y="391.20" width="21.90" height="33.00" />
<path d="M674.01,425.12 L696.01,431.12 L697.99,423.88 L675.99,417.88 Z" stroke="#1c1c1c" fill="#fff" stroke-linejoin="round" stroke-linecap="round" stroke-width="1.1"/>
<path d="M674.65,422.77 L696.65,428.77" stroke="#1c1c1c" stroke-width="0.9"/>
<path d="M675.20,420.78 L697.20,426.78" stroke="#1c1c1c" stroke-width="0.9"/>
<ellipse cx="697.5" cy="427" rx="3.2" ry="3.5" stroke="#1c1c1c" fill="#fff" stroke-linejoin="round" stroke-linecap="round" stroke-width="1"/>
<use href="#cr" x="656.20" y="408.90" width="24.40" height="25.10" />
<use href="#bs" x="722.70" y="426.90" width="22.00" height="32.60" />
<use href="#bi" x="722.90" y="460.20" width="21.60" height="31.80" />
<path d="M712.00,462.25 L734.50,462.25 L734.50,454.75 L712.00,454.75 Z" stroke="#1c1c1c" fill="#fff" stroke-linejoin="round" stroke-linecap="round" stroke-width="1.1"/>
<path d="M712.00,460.38 L734.50,460.38" stroke="#1c1c1c" stroke-width="0.9"/>
<path d="M734.5,454.8 V462.2" stroke="#1c1c1c" stroke-width="1.1"/>
<use href="#cr" x="694.30" y="444.30" width="26.30" height="25.50" />
<path d="M769.20,410.00 V431.00 M778.90,410.00 V431.00" stroke="#1c1c1c" stroke-width="1.1"/>
<rect x="769.20" y="410.00" width="9.70" height="21.00" fill="#fff" stroke="#1c1c1c" stroke-width="1.1"/>
<rect x="768.3" y="429.8" width="11.5" height="9.5" stroke="#1c1c1c" fill="#fff" stroke-linejoin="round" stroke-linecap="round" stroke-width="1.1"/>
<ellipse cx="778" cy="477" rx="1" ry="1" fill="none"/>
<ellipse cx="778.5" cy="466.3" rx="11" ry="5" stroke="#1c1c1c" fill="#fff" stroke-linejoin="round" stroke-linecap="round" stroke-width="1.2"/>
<path d="M770,466 Q774,463 777,467 Q779,469 781,467 Q784,463 788,466" fill="none" stroke="#1c1c1c" stroke-width="1.1"/>
<path d="M772,440 Q790,436 791,450 Q791,461 780,462 L770,462" stroke="#1c1c1c" fill="#fff" stroke-linejoin="round" stroke-linecap="round" stroke-width="1.2"/>
<ellipse cx="770.5" cy="450.6" rx="9.8" ry="11.5" stroke="#1c1c1c" fill="#fff" stroke-linejoin="round" stroke-linecap="round" stroke-width="1.3"/>
<ellipse cx="770.5" cy="450.6" rx="7.6" ry="9.5" fill="none" stroke="#1c1c1c" stroke-width="1"/>
<path d="M771,440 V461" stroke="#1c1c1c" stroke-width="1"/>
<use href="#bs" x="762.10" y="374.50" width="23.30" height="38.10" />
</svg>
<div class="t">产品与附件装配示意图</div>
<div class="d">直接安装</div>
</body></html>
